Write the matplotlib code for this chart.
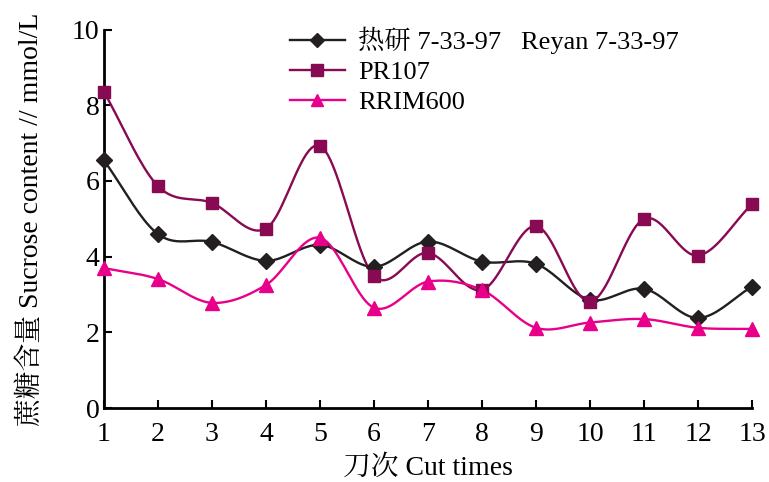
import numpy as np
import matplotlib
matplotlib.use('Agg')
import matplotlib.pyplot as plt

plt.rcParams['font.family'] = ['Liberation Serif', 'Noto Serif CJK SC', 'Noto Sans CJK SC', 'DejaVu Sans']

# data ========================================================================
cut_times = [1, 2, 3, 4, 5, 6, 7, 8, 9, 10, 11, 12, 13]
reyan = [6.55, 4.6, 4.39, 3.89, 4.31, 3.73, 4.40, 3.87, 3.81, 2.86, 3.15, 2.38, 3.21]
pr107 = [8.36, 5.87, 5.42, 4.74, 6.93, 3.49, 4.10, 3.12, 4.81, 2.81, 5.00, 4.03, 5.39]
rrim600 = [3.70, 3.41, 2.78, 3.25, 4.50, 2.65, 3.34, 3.12, 2.12, 2.26, 2.35, 2.12, 2.09]

series_names = ['热研 7-33-97   Reyan 7-33-97', 'PR107', 'RRIM600']
y_ticks = [0, 2, 4, 6, 8, 10]


def smooth(x, y, n=20):
    # catmull-rom through the points, like a spreadsheet "smoothed line"
    x = np.asarray(x, float)
    y = np.asarray(y, float)
    px = np.concatenate([[2 * x[0] - x[1]], x, [2 * x[-1] - x[-2]]])
    py = np.concatenate([[2 * y[0] - y[1]], y, [2 * y[-1] - y[-2]]])
    xs, ys = [], []
    t = np.linspace(0, 1, n, endpoint=False)
    for i in range(1, len(px) - 2):
        for p, out in ((px, xs), (py, ys)):
            p0, p1, p2, p3 = p[i - 1], p[i], p[i + 1], p[i + 2]
            out.append(0.5 * ((2 * p1) + (-p0 + p2) * t
                              + (2 * p0 - 5 * p1 + 4 * p2 - p3) * t ** 2
                              + (-p0 + 3 * p1 - 3 * p2 + p3) * t ** 3))
    xs.append([x[-1]])
    ys.append([y[-1]])
    return np.concatenate(xs), np.concatenate(ys)


fig = plt.figure(figsize=(7.69, 4.82), dpi=100)
ax = fig.add_axes([0.135, 0.1535, 0.843, 0.785])

styles = [
    dict(color='#231f20', marker='D', ms=8),
    dict(color='#870a52', marker='s', ms=9),
    dict(color='#e8008a', marker='^', ms=10),
]
for vals, name, st in zip([reyan, pr107, rrim600], series_names, styles):
    sx, sy = smooth(cut_times, vals)
    ax.plot(sx, sy, color=st['color'], lw=1.7, zorder=2, clip_on=False)
    ax.plot(cut_times, vals, ls='none', marker=st['marker'], ms=st['ms'],
            color=st['color'], zorder=3, clip_on=False)
    # legend proxy
    ax.plot([], [], color=st['color'], lw=1.7, marker=st['marker'],
            ms=st['ms'] * 0.9, label=name)

ax.set_xlim(1, 13)
ax.set_ylim(0, 10)
ax.set_xticks(cut_times)
ax.set_yticks(y_ticks)
ax.tick_params(direction='in', length=6, width=1.5, labelsize=20)
ax.tick_params(axis='x', pad=10)
ax.tick_params(axis='y', pad=3)
ax.spines['top'].set_visible(False)
ax.spines['right'].set_visible(False)
ax.spines['left'].set_linewidth(2)
ax.spines['bottom'].set_linewidth(2)

ax.set_xlabel('刀次 Cut times', fontsize=20, labelpad=6)
ax.set_ylabel('蔗糖含量 Sucrose content // mmol/L', fontsize=20, labelpad=20)

ax.legend(loc='upper left', bbox_to_anchor=(0.25, 1.07), frameon=False,
          fontsize=19, handlelength=2.1, labelspacing=0.25, handletextpad=0.5)

fig.savefig('out.png', dpi=100)
